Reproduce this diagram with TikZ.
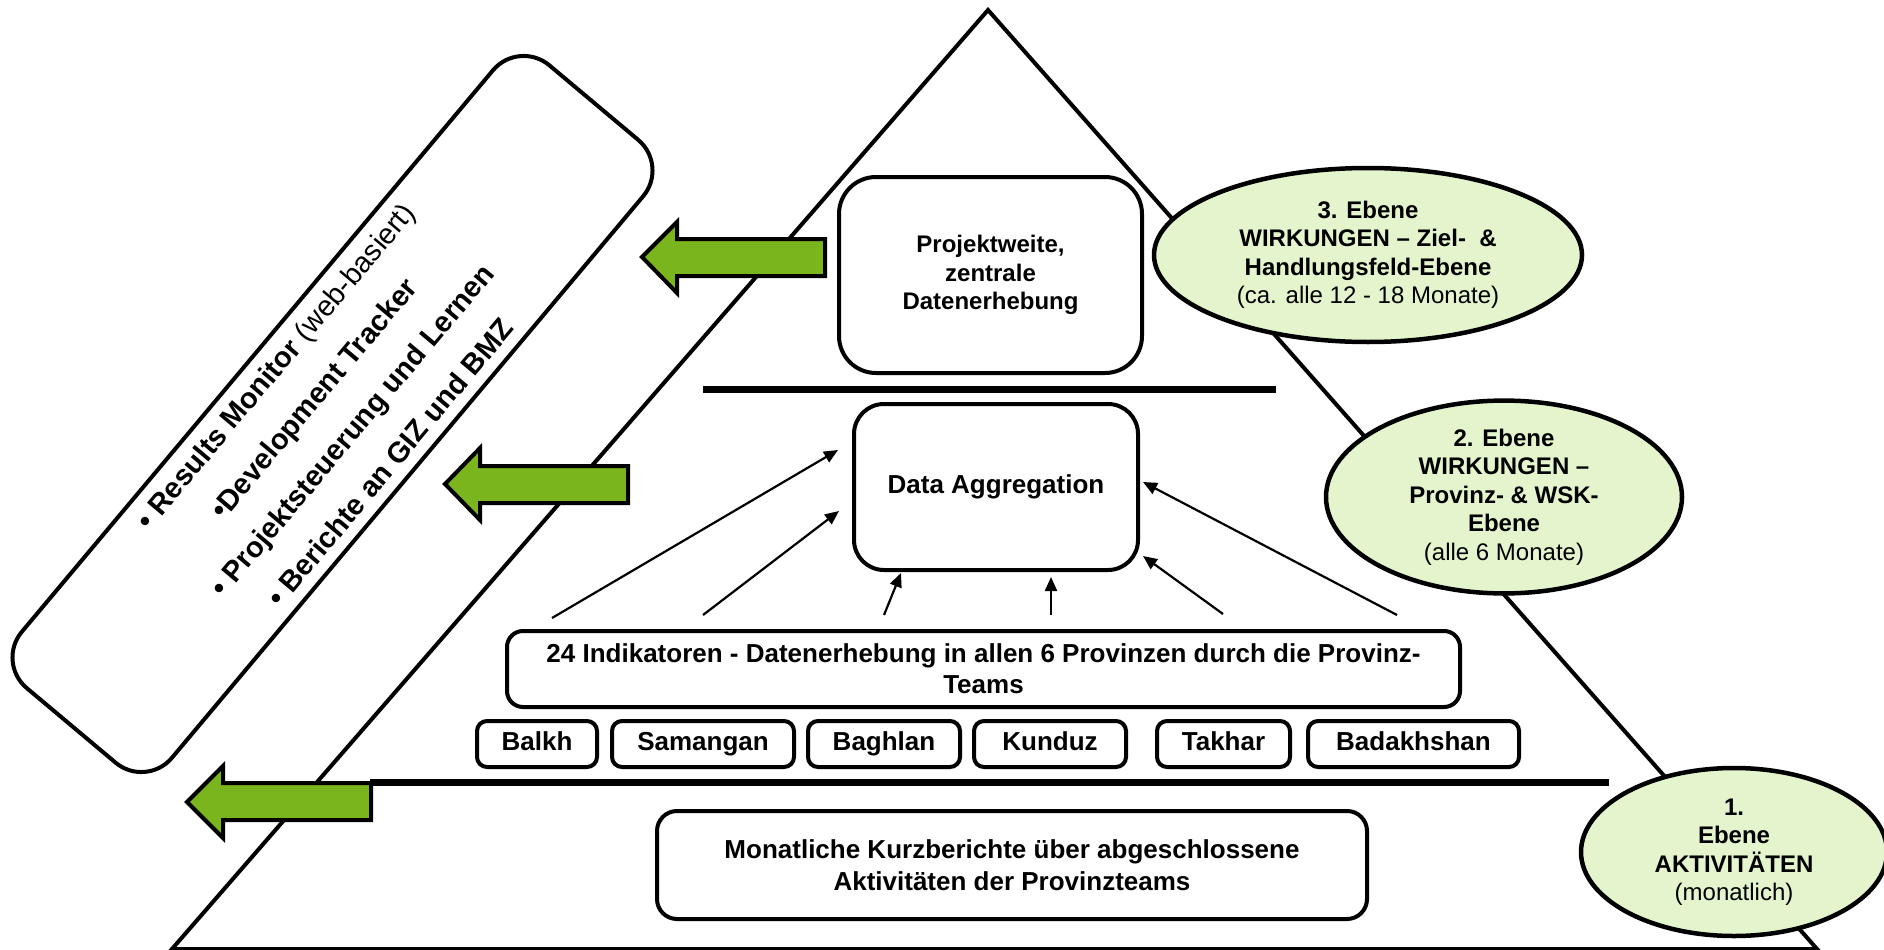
\documentclass[tikz,border=0pt]{standalone}
\usepackage{fontspec}
\setmainfont{Liberation Sans}
\usetikzlibrary{arrows.meta,shapes.geometric}
\definecolor{arrowgreen}{RGB}{122,181,30}
\definecolor{ellgreen}{RGB}{228,245,206}
\begin{document}
\begin{tikzpicture}[x=1pt,y=-1pt,
  box/.style={draw,line width=4pt,fill=white,rounded corners=#1,inner sep=0pt,align=center,
    font=\bfseries\fontsize{26}{31}\selectfont},
  onerow/.style={text height=19pt,text depth=5.5pt},
  ell/.style={ellipse,draw,line width=4.5pt,fill=ellgreen,inner sep=0pt,align=center,
    font=\fontsize{24}{28.5}\selectfont},
  garrow/.style={draw,line width=4pt,fill=arrowgreen,line join=miter},
  feed/.style={line width=2.2pt,-{Triangle[length=14pt,width=12pt]}},
  sep/.style={line width=7pt},
  pyramid/.style={line width=4pt,line join=miter}]
\useasboundingbox (0,0) rectangle (1884,950);

% pyramid
\draw[pyramid] (988,10) -- (1817,949) -- (172,949) -- cycle;
\draw[sep] (703,389) -- (1276,389);
\draw[sep] (370,782) -- (1609,782);

% boxes
\node[box=37pt,minimum width=303pt,minimum height=196pt,
  font=\bfseries\fontsize{24}{28.5}\selectfont] (proj) at (990.5,275)
  {Projektweite,\\zentrale\\Datenerhebung};
\node[box=30pt,onerow,minimum width=284pt,minimum height=166pt] (agg) at (996,487) {Data Aggregation};
\node[box=16pt,minimum width=953pt,minimum height=76pt] (ind) at (983.5,669)
  {24 Indikatoren - Datenerhebung in allen 6 Provinzen durch die Provinz-\\Teams};
\node[box=10pt,onerow,minimum width=120pt,minimum height=46pt] (balkh) at (537,744) {Balkh};
\node[box=10pt,onerow,minimum width=182pt,minimum height=46pt] (samangan) at (703,744) {Samangan};
\node[box=10pt,onerow,minimum width=152pt,minimum height=46pt] (baghlan) at (884,744) {Baghlan};
\node[box=10pt,onerow,minimum width=152pt,minimum height=46pt] (kunduz) at (1050,744) {Kunduz};
\node[box=10pt,onerow,minimum width=133pt,minimum height=46pt] (takhar) at (1223.5,744) {Takhar};
\node[box=10pt,onerow,minimum width=211pt,minimum height=46pt] (badakhshan) at (1413.5,744) {Badakhshan};
\node[box=20pt,minimum width=710pt,minimum height=108pt,
  font=\bfseries\fontsize{26}{32}\selectfont] (mon) at (1012,865)
  {Monatliche Kurzberichte über abgeschlossene\\Aktivitäten der Provinzteams};

% feed arrows into Data Aggregation
\coordinate (s1) at (552,618);  \coordinate (t1) at (838,450);
\coordinate (s2) at (703,615);  \coordinate (t2) at (839,511);
\coordinate (s3) at (884,615);  \coordinate (t3) at (901,573);
\coordinate (s4) at (1051,615); \coordinate (t4) at (1051,577);
\coordinate (s5) at (1223,614); \coordinate (t5) at (1143,556);
\coordinate (s6) at (1397,615); \coordinate (t6) at (1143,482);
\foreach \i in {1,...,6} \draw[feed] (s\i) -- (t\i);

% level ellipses
\node[ell,minimum width=428pt,minimum height=174pt] (e3) at (1368,255)
  {\textbf{3. Ebene}\\\textbf{WIRKUNGEN – Ziel-\ \ \&}\\\textbf{Handlungsfeld-Ebene}\\(ca. alle 12 - 18 Monate)};
\node[ell,minimum width=356pt,minimum height=176pt] (e2) at (1504,497)
  {\textbf{2. Ebene}\\\textbf{WIRKUNGEN –}\\\textbf{Provinz- \& WSK-}\\\textbf{Ebene}\\(alle 6 Monate)};
\node[ell,minimum width=306pt,minimum height=168pt] (e1) at (1734,852)
  {\textbf{1.}\\\textbf{Ebene}\\\textbf{AKTIVITÄTEN}\\(monatlich)};

% green arrows
\draw[garrow] (825,239) -- (677,239) -- (677,222) -- (642,257) -- (677,293) -- (677,276) -- (825,276) -- cycle;
\draw[garrow] (628,466) -- (480,466) -- (480,448) -- (445,484) -- (480,520) -- (480,503) -- (628,503) -- cycle;
\draw[garrow] (371,783) -- (223,783) -- (223,766) -- (187,802) -- (223,838) -- (223,820) -- (371,820) -- cycle;

% rotated panel
\node[draw,line width=4pt,rounded corners=40pt,minimum width=813pt,minimum height=196pt,
  rotate=50,align=center,inner sep=0pt,font=\bfseries\fontsize{29}{50}\selectfont] (panel) at (332.5,414)
  {• Results Monitor {\mdseries(web-basiert)}\\•Development Tracker\\• Projektsteuerung und Lernen\\• Berichte an GIZ und BMZ};
\end{tikzpicture}
\end{document}
